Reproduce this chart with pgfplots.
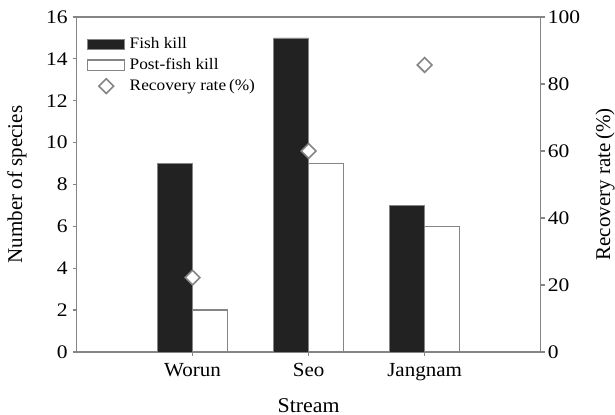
\documentclass[border=0pt]{standalone}
\usepackage{pgfplots}
\pgfplotsset{compat=1.18}
\usetikzlibrary{calc}
\usepackage{fontspec}
\setmainfont{Liberation Serif}
\definecolor{barblack}{HTML}{222222}
\definecolor{axisgray}{HTML}{858585}

\pgfplotsset{
  commonaxis/.style={
    scale only axis, width=232pt, height=167.4pt,
    xmin=0, xmax=4,
    tick align=outside,
    axis line style={axisgray, line width=0.6pt},
    tick style={axisgray, line width=0.6pt},
    major tick length=2pt,
    xticklabel style={font=\fontsize{10}{11}\selectfont, xscale=1.05},
    yticklabel style={font=\fontsize{9.6}{11}\selectfont, xscale=1.12},
    label style={font=\fontsize{10.5}{12}\selectfont},
    /pgf/number format/assume math mode=true,
  },
  barlegend/.style={legend image code/.code={
      \draw[##1] (-0.75pt,-2.6pt) rectangle (17.8pt,2.6pt);}},
}

\begin{document}
\begin{tikzpicture}
% species counts, left axis
\begin{axis}[
  commonaxis,
  ymin=0, ymax=16,
  ytick={0,2,...,16},
  xtick={1,2,3},
  xticklabels={Worun,Seo,Jangnam},
  xtick pos=bottom, ytick pos=left,
  yticklabel style={inner xsep=2pt},
  xlabel={Stream},
  ylabel={Number of species},
  xlabel style={at={(axis description cs:0.5,-0.1592)}, anchor=center, xscale=1.04},
  ylabel style={at={(axis description cs:-0.1282,0.5)}, anchor=center},
  legend style={draw=none, fill=none, at={(0.009,0.965)}, anchor=north west,
    font=\fontsize{8}{9}\selectfont, row sep=-0.6pt,
    nodes={xscale=1.08},
    /tikz/every even column/.append style={column sep=3.5pt}},
  legend cell align=left,
]
\addplot[ybar, bar width=0.3, bar shift=-0.15, fill=barblack, draw=axisgray,
  barlegend] coordinates {(1,9) (2,15) (3,7)};
\addlegendentry{Fish kill}
\addplot[ybar, bar width=0.3, bar shift=0.15, fill=white, draw=axisgray,
  line width=0.6pt, barlegend] coordinates {(1,2) (2,9) (3,6)};
\addlegendentry{Post-fish kill}
\addlegendimage{only marks, mark=square*, mark size=2.6pt,
  mark options={rotate=45, draw=axisgray, fill=white, line width=0.8pt}}
\addlegendentry{Recovery rate\,(\%)}
\end{axis}
% recovery rate, right axis
\begin{axis}[
  commonaxis,
  ymin=0, ymax=100,
  ytick={0,20,...,100},
  yticklabel style={inner xsep=1.2pt},
  hide x axis,
  axis y line*=right,
  ylabel={Recovery rate\,(\%)},
  ylabel style={at={(axis description cs:1.1386,0.5)}, anchor=center},
]
\addplot[only marks, mark=square*, mark size=2.6pt,
  mark options={rotate=45, draw=axisgray, fill=white, line width=0.8pt}]
  coordinates {(1,22.2) (2,60) (3,85.7)};
\end{axis}
% page frame around the plot area
\pgfresetboundingbox
\path ($(current axis.south west)+(-38.25pt,-31.15pt)$)
  rectangle ($(current axis.north east)+(37.15pt,8.5pt)$);
\end{tikzpicture}
\end{document}
